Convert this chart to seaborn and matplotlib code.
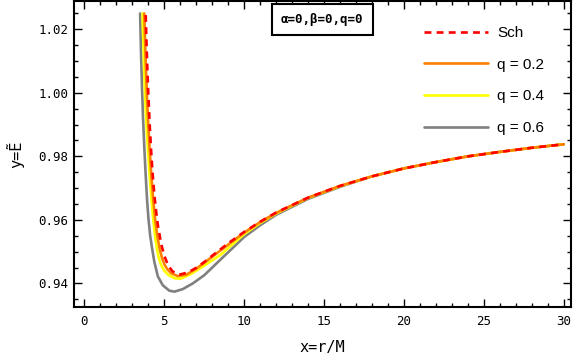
import matplotlib
matplotlib.use("Agg")
import matplotlib.pyplot as plt
import matplotlib.ticker as mticker
import pandas as pd
import seaborn as sns
from matplotlib.lines import Line2D

# ── Data (x = r/M, y = E~) ──────────────────────────────────────────────────
# common far-field part, all curves merge here
TAIL_X = [18, 20, 22, 24, 26, 28, 30]
TAIL_E = [0.9737, 0.9762, 0.9782, 0.9800, 0.9814, 0.9827, 0.9838]

SCH_X = [3.84, 3.87, 3.90, 3.95, 4.00, 4.10, 4.20, 4.30, 4.40, 4.50, 4.60,
         4.80, 5.00, 5.25, 5.50, 5.75, 6.00, 6.50, 7.00, 7.50, 8.0, 9, 10,
         11, 12, 14, 16]
SCH_E = [1.0245, 1.0191, 1.0142, 1.0066, 1.0000, 0.9889, 0.9800, 0.9728,
         0.9670, 0.9623, 0.9584, 0.9526, 0.9487, 0.9456, 0.9439, 0.9430,
         0.9428, 0.9435, 0.9449, 0.9467, 0.9487, 0.9526, 0.9562, 0.9594,
         0.9623, 0.9670, 0.9707]

Q02_X = [3.75, 3.80, 3.86, 3.93, 4.00, 4.08, 4.18, 4.30, 4.43, 4.56, 4.70,
         4.85, 5.01, 5.20, 5.43, 5.85, 6.37, 6.99, 7.51, 8.5, 10, 11, 12,
         14, 16]
Q02_E = [1.0250, 1.0165, 1.0070, 0.9975, 0.9900, 0.9830, 0.9750, 0.9670,
         0.9602, 0.9552, 0.9512, 0.9482, 0.9460, 0.9444, 0.9432, 0.9423,
         0.9427, 0.9446, 0.9465, 0.9503, 0.9560, 0.9593, 0.9622, 0.9670,
         0.9707]

Q04_X = [3.64, 3.69, 3.75, 3.82, 3.90, 3.97, 4.06, 4.16, 4.28, 4.40, 4.53,
         4.66, 4.80, 5.00, 5.22, 5.64, 6.05, 6.68, 7.51, 8.5, 10, 11, 12,
         14, 16]
Q04_E = [1.0250, 1.0160, 1.0065, 0.9970, 0.9890, 0.9830, 0.9760, 0.9690,
         0.9618, 0.9560, 0.9512, 0.9480, 0.9458, 0.9440, 0.9428, 0.9416,
         0.9415, 0.9430, 0.9456, 0.9489, 0.9555, 0.9590, 0.9620, 0.9669,
         0.9706]

Q06_X = [3.49, 3.54, 3.60, 3.67, 3.75, 3.84, 3.93, 4.01, 4.12, 4.24, 4.38,
         4.60, 4.91, 5.32, 5.64, 6.16, 6.79, 7.51, 8.5, 10, 11, 12, 14, 16]
Q06_E = [1.0250, 1.0140, 1.0030, 0.9925, 0.9830, 0.9740, 0.9660, 0.9605,
         0.9550, 0.9510, 0.9468, 0.9422, 0.9394, 0.9377, 0.9374, 0.9382,
         0.9400, 0.9426, 0.9474, 0.9546, 0.9583, 0.9616, 0.9666, 0.9704]

LABELS = ["Sch", "q = 0.2", "q = 0.4", "q = 0.6"]
COLORS = ["#FF0000", "#FF8000", "#FFFF00", "#808080"]

X_TICKS = [0, 5, 10, 15, 20, 25, 30]
Y_TICKS = [0.94, 0.96, 0.98, 1.00, 1.02]

MONO = "DejaVu Sans Mono"


def main() -> None:
    sns.set_theme(style="white")
    plt.rcParams["font.family"] = ["DejaVu Sans"]
    plt.rcParams["text.color"] = "black"
    plt.rcParams["axes.labelcolor"] = "black"

    fig = plt.figure(figsize=(5.74, 3.60), dpi=100)
    ax = fig.add_axes([0.129, 0.147, 0.865, 0.850])

    series = [
        (Q06_X, Q06_E, 3, "-"),
        (Q04_X, Q04_E, 2, "-"),
        (Q02_X, Q02_E, 1, "-"),
        (SCH_X, SCH_E, 0, "--"),
    ]
    for xs, es, idx, ls in series:
        df = pd.DataFrame({"x": xs + TAIL_X, "E": es + TAIL_E})
        sns.lineplot(data=df, x="x", y="E", ax=ax, color=COLORS[idx],
                     linewidth=1.9, linestyle=ls, sort=False,
                     estimator=None, legend=False)
        if ls == "--":
            ax.lines[-1].set_dashes((2.6, 2.0))

    ax.set_xlim(-0.645, 30.43)
    ax.set_ylim(0.93254, 1.0289)
    ax.set_xticks(X_TICKS)
    ax.set_yticks(Y_TICKS)
    ax.xaxis.set_minor_locator(mticker.MultipleLocator(1))
    ax.yaxis.set_minor_locator(mticker.MultipleLocator(0.005))
    ax.yaxis.set_major_formatter(mticker.FuncFormatter(lambda v, _: f"{v:.2f}"))

    ax.tick_params(which="both", direction="in", top=True, right=True,
                   bottom=True, left=True, color="black", width=1.0)
    ax.tick_params(which="major", length=5.5, labelsize=9, pad=4)
    ax.tick_params(which="minor", length=3)
    ax.tick_params(axis="x", which="major", pad=6)
    for lab in ax.get_xticklabels() + ax.get_yticklabels():
        lab.set_family(MONO)
        lab.set_color("black")

    for sp in ax.spines.values():
        sp.set_visible(True)
        sp.set_color("black")
        sp.set_linewidth(1.5)

    ax.set_xlabel("x=r/M", fontsize=11, family=MONO, labelpad=8)
    ax.set_ylabel("y=Ẽ", fontsize=11, family=MONO, labelpad=10)

    # parameter box
    ax.text(0.5, 0.94, "α=0,β=0,q=0", transform=ax.transAxes,
            ha="center", va="center", fontsize=9, family=MONO,
            fontweight="bold",
            bbox=dict(boxstyle="square,pad=0.75", facecolor="white",
                      edgecolor="black", linewidth=1.5))

    handles = [
        Line2D([0], [0], color=COLORS[0], lw=1.9, dashes=(2.6, 2.0)),
        Line2D([0], [0], color=COLORS[1], lw=1.9),
        Line2D([0], [0], color=COLORS[2], lw=1.9),
        Line2D([0], [0], color=COLORS[3], lw=1.9),
    ]
    leg = ax.legend(handles=handles, labels=LABELS, loc="upper left",
                    bbox_to_anchor=(0.704, 0.918), frameon=False,
                    borderaxespad=0, borderpad=0, handlelength=4.2,
                    handletextpad=0.6, labelspacing=1.15,
                    prop={"family": "Liberation Sans", "size": 11})
    for t in leg.get_texts():
        t.set_color("black")

    fig.savefig("out.png", dpi=100, facecolor="white")
    plt.close(fig)


if __name__ == "__main__":
    main()
